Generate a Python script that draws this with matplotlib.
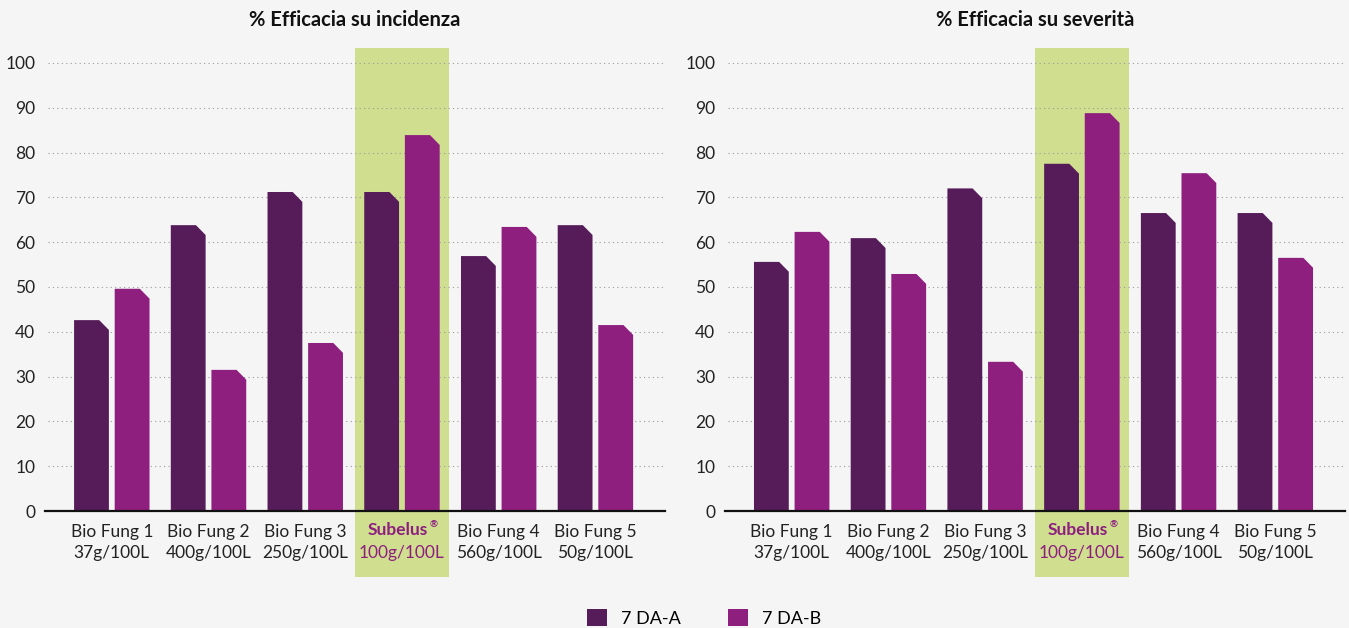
import numpy as np
import matplotlib.pyplot as plt
from matplotlib.patches import Polygon, Rectangle, Patch

plt.rcParams['font.family'] = ['Lato', 'DejaVu Sans']

categories = ["Bio Fung 1", "Bio Fung 2", "Bio Fung 3", "Subelus", "Bio Fung 4", "Bio Fung 5"]
doses = ["37g/100L", "400g/100L", "250g/100L", "100g/100L", "560g/100L", "50g/100L"]
series = ["7 DA-A", "7 DA-B"]

incidenza_a = [42.6, 63.8, 71.2, 71.2, 56.9, 63.8]
incidenza_b = [49.6, 31.5, 37.5, 83.9, 63.4, 41.5]
severita_a = [55.6, 60.9, 72.0, 77.5, 66.5, 66.5]
severita_b = [62.3, 52.9, 33.3, 88.8, 75.4, 56.5]

titles = ["% Efficacia su incidenza", "% Efficacia su severità"]
highlight = 3

col_a = "#561C59"
col_b = "#8E1F7F"
col_hl = "#CFDE8F"
bg = "#F5F5F5"

fig = plt.figure(figsize=(13.49, 6.28), dpi=100, facecolor=bg)
ax1 = fig.add_axes([0.0334, 0.1863, 0.4596, 0.737])
ax2 = fig.add_axes([0.5374, 0.1863, 0.4596, 0.737])

bw = 0.36
off = 0.21
cx, cy = 0.1, 2.2  # chamfer size


def chamfer_bar(ax, x, h, color):
    l, r = x - bw / 2, x + bw / 2
    pts = [(l, 0), (l, h), (r - cx, h), (r, h - cy), (r, 0)]
    ax.add_patch(Polygon(pts, closed=True, facecolor=color, edgecolor='none', zorder=3))


for ax, vals_a, vals_b, title in [(ax1, incidenza_a, incidenza_b, titles[0]),
                                  (ax2, severita_a, severita_b, titles[1])]:
    ax.set_facecolor(bg)
    x = np.arange(len(categories))
    ax.set_xlim(-0.69, 5.72)
    ax.set_ylim(0, 103.3)

    # highlight band for Subelus
    ax.add_patch(Rectangle((highlight - 0.485, -14.7), 0.97, 118.0, facecolor=col_hl,
                           edgecolor='none', zorder=0, clip_on=False))

    for i in x:
        chamfer_bar(ax, i - off, vals_a[i], col_a)
        chamfer_bar(ax, i + off, vals_b[i], col_b)

    ax.set_yticks(np.arange(0, 101, 10))
    ax.tick_params(axis='y', length=0, pad=7, labelsize=12.5, labelcolor='#222222')
    for yv in range(10, 101, 10):
        ax.axhline(yv, xmin=0.005, color='#9a9a9a', linestyle=(0, (1, 3)), lw=0.8, zorder=1)

    ax.set_xticks(x)
    labels = [f"{c}\n{d}" if i != highlight else "" for i, (c, d) in enumerate(zip(categories, doses))]
    ax.set_xticklabels(labels, fontsize=12.5, color='#222222', linespacing=1.4)
    ax.tick_params(axis='x', length=0, pad=9)

    # Subelus label
    ax.annotate("Subelus", xy=(highlight, 0), xytext=(-3, -14), textcoords='offset points',
                ha='center', va='center', fontsize=12.5, fontweight='bold', color=col_b)
    ax.annotate("®", xy=(highlight, 0), xytext=(23, -10), textcoords='offset points',
                ha='center', va='center', fontsize=7, fontweight='bold', color=col_b)
    ax.annotate(doses[highlight], xy=(highlight, 0), xytext=(0, -30), textcoords='offset points',
                ha='center', va='center', fontsize=12.5, color=col_b)

    for s in ['top', 'right', 'left']:
        ax.spines[s].set_visible(False)
    ax.spines['bottom'].set_color('#111111')
    ax.spines['bottom'].set_linewidth(1.6)
    ax.spines['bottom'].set_zorder(4)

    ax.set_title(title, fontsize=14.5, fontweight='bold', color='#111111', pad=16)

handles = [Patch(facecolor=col_a, label=series[0]), Patch(facecolor=col_b, label=series[1])]
fig.legend(handles=handles, loc='lower center', bbox_to_anchor=(0.522, -0.024), ncol=2,
           frameon=False, fontsize=13, handlelength=1.1, handleheight=1.1,
           columnspacing=2.6, handletextpad=0.8)

fig.savefig("out.png", dpi=100, facecolor=bg)
